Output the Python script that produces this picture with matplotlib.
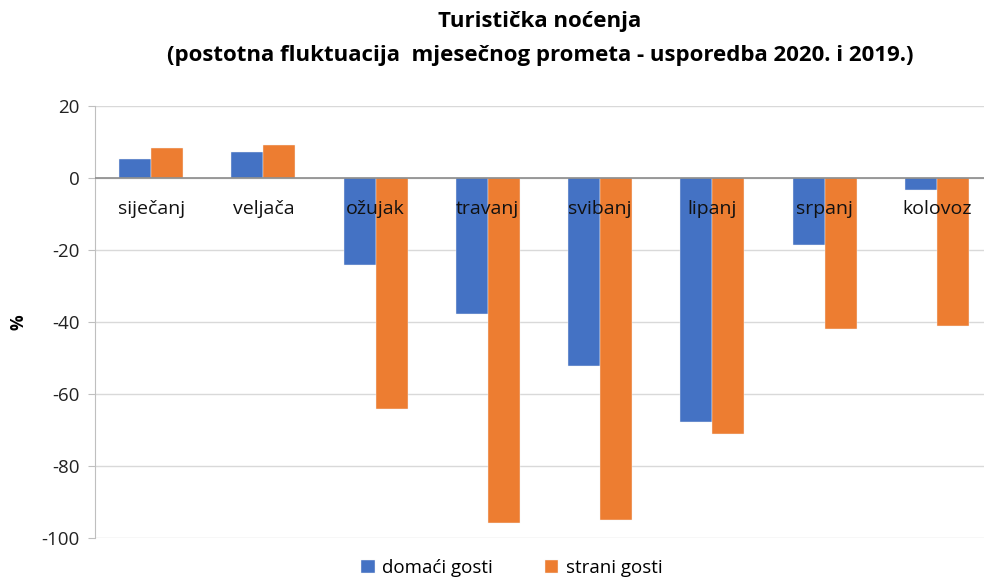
import matplotlib
matplotlib.use("Agg")
import matplotlib.pyplot as plt
import numpy as np

months = ["siječanj", "veljača", "ožujak", "travanj", "svibanj", "lipanj", "srpanj", "kolovoz"]
domaci = [5.3, 7.3, -24.3, -37.9, -52.1, -67.8, -18.6, -3.3]
strani = [8.3, 9.2, -64.3, -95.8, -95.0, -71.2, -42.0, -41.0]
yticks = [20, 0, -20, -40, -60, -80, -100]

plt.rcParams['font.family'] = ['Open Sans', 'DejaVu Sans']

W, H = 984, 579
fig = plt.figure(figsize=(W/100, H/100), dpi=100)
left, right = 95, 993
top, bottom = 106, 538
ax = fig.add_axes([left/W, 1 - bottom/H, (right-left)/W, (bottom-top)/H])

x = np.arange(len(months))
bw = 0.285
ax.bar(x - bw/2, domaci, bw, color="#4472C4", edgecolor="#f3f3f3", linewidth=0.3, label="domaći gosti", zorder=3)
ax.bar(x + bw/2, strani, bw, color="#ED7D31", edgecolor="#f3f3f3", linewidth=0.3, label="strani gosti", zorder=3)

ax.set_xlim(-0.5, len(months) - 0.5)
ax.set_ylim(-100, 20)
ax.set_yticks(yticks)
ax.set_yticklabels([str(t) for t in yticks], fontsize=13.5, color="#222222")
ax.set_xticks([])
ax.grid(axis="y", color="#d9d9d9", linewidth=1, zorder=0)
ax.axhline(0, color="#8c8c8c", linewidth=1.2, zorder=4)
for s in ["top", "right", "bottom"]:
    ax.spines[s].set_visible(False)
ax.spines["left"].set_color("#bfbfbf")
ax.tick_params(axis="y", length=5, color="#bfbfbf", pad=6)

for xi, m in zip(x, months):
    ax.text(xi, -8.5, m, ha="center", va="center", fontsize=14, color="#111111", zorder=5)

fig.text(18/W, 1 - 322/H, "%", rotation=90, ha="center", va="center", fontsize=12.5, fontweight="bold")

fig.text(540/W, 1 - 22/H, "Turistička noćenja", ha="center", va="center", fontsize=16, fontweight="bold")
fig.text(540/W, 1 - 55/H, "(postotna fluktuacija  mjesečnog prometa - usporedba 2020. i 2019.)", ha="center", va="center", fontsize=16, fontweight="bold")

fig.legend(loc="center", bbox_to_anchor=(512/W, 1 - 568/H), ncol=2, frameon=False, fontsize=13.5,
           handlelength=0.7, handleheight=0.7, handletextpad=0.4, columnspacing=2.8)

fig.savefig("out.png", dpi=100, facecolor="white")
